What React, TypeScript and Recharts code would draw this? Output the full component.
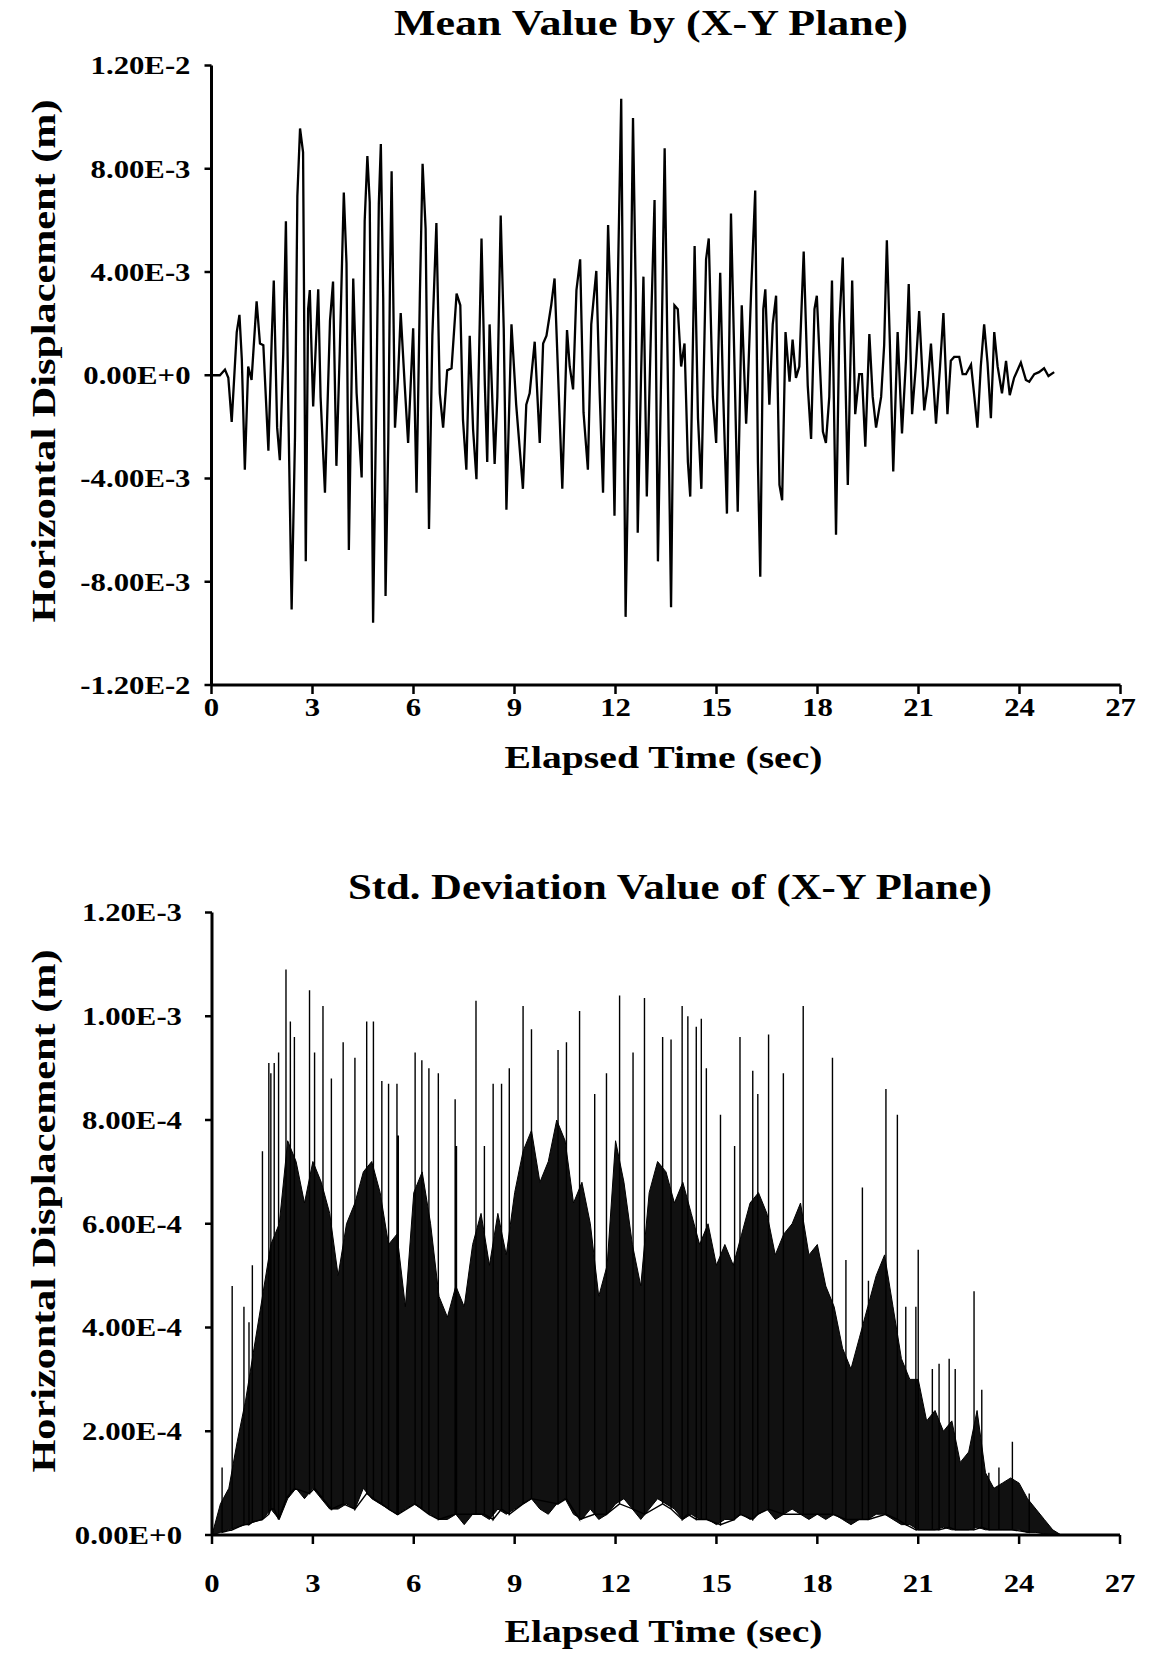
import React from 'react';
import { LineChart, ComposedChart, Line, Area, XAxis, YAxis } from 'recharts';

// ---------- shared axis data ----------
const timeTicks = [0, 3, 6, 9, 12, 15, 18, 21, 24, 27];

// Mean chart (values in 1e-3 m)
const meanTickValues = [-12, -8, -4, 0, 4, 8, 12];
const meanTickLabels = ['-1.20E-2', '-8.00E-3', '-4.00E-3', '0.00E+0', '4.00E-3', '8.00E-3', '1.20E-2'];

// Std chart (values in 1e-4 m)
const stdTickValues = [0, 2, 4, 6, 8, 10, 12];
const stdTickLabels = ['0.00E+0', '2.00E-4', '4.00E-4', '6.00E-4', '8.00E-4', '1.00E-3', '1.20E-3'];

// ---------- mean displacement trace: [time s, value 1e-3 m] ----------
const meanPartA: [number, number][] = [
  [0, 0], [0.25, 0], [0.4, 0.22], [0.5, -0.1], [0.6, -1.81], [0.75, 1.67], [0.83, 2.34], [0.9, 0.64],
  [0.99, -3.66], [1.09, 0.34], [1.19, -0.18], [1.34, 2.86], [1.44, 1.23], [1.54, 1.16], [1.69, -2.92],
  [1.79, 1.45], [1.85, 3.67], [1.95, -2.03], [2.03, -3.29], [2.13, 0.79], [2.21, 5.97], [2.28, -1.14],
  [2.38, -9.07], [2.48, -2.4], [2.55, 6.93], [2.63, 9.56], [2.72, 8.64], [2.8, -7.21], [2.87, 2.56],
  [2.92, 3.3], [3.02, -1.21], [3.17, 3.33], [3.24, -0.84], [3.37, -4.55], [3.52, 2.12], [3.61, 3.63],
  [3.71, -3.51], [3.81, 0.93], [3.93, 7.08], [4.01, 4.34], [4.08, -6.77], [4.21, 3.75], [4.31, -0.7],
  [4.46, -3.96], [4.55, 5.97], [4.63, 8.49], [4.7, 6.71], [4.8, -9.59], [4.9, -0.55], [4.97, 6.64],
  [5.03, 8.96], [5.1, 3.01], [5.17, -8.55], [5.25, -2.62], [5.3, 3.45], [5.35, 7.9], [5.45, -2.03],
  [5.54, -0.1], [5.62, 2.41], [5.74, -0.4], [5.84, -2.62], [5.99, 1.82], [6.09, -4.55], [6.19, 3.16],
  [6.27, 8.19], [6.36, 5.67], [6.46, -5.96], [6.56, 1.53], [6.68, 5.9], [6.78, -0.7], [6.88, -2.03],
  [7.0, 0.19], [7.13, 0.27], [7.28, 3.16], [7.39, 2.71], [7.47, -1.73], [7.57, -3.66], [7.67, 1.53],
  [7.77, -2.1], [7.87, -4.03], [8.02, 5.3], [8.12, -0.4], [8.19, -3.36], [8.26, 1.97], [8.41, -3.44],
  [8.49, -0.84], [8.59, 6.19], [8.68, 1.82], [8.76, -5.21], [8.91, 1.97],
];
const meanPartB: [number, number][] = [
  [9.05, -1.14], [9.25, -4.4], [9.35, -1.14], [9.45, -0.7], [9.6, 1.3], [9.75, -2.62], [9.85, 1.23],
  [9.95, 1.53], [10.09, 2.71], [10.19, 3.75], [10.34, -1.59], [10.42, -4.4], [10.56, 1.75], [10.64, 0.34],
  [10.74, -0.55], [10.84, 3.3], [10.95, 4.49], [11.05, -1.44], [11.18, -3.66], [11.28, 1.97], [11.43, 4.04],
  [11.53, -0.7], [11.63, -4.55], [11.78, 5.82], [11.87, 2.12], [11.97, -5.44], [12.07, 3.6], [12.17, 10.71],
  [12.24, -0.4], [12.3, -9.36], [12.42, -0.4], [12.52, 9.97], [12.6, 3.3], [12.66, -6.1], [12.76, 0.04],
  [12.83, 3.82], [12.93, -4.7], [13.06, 2.12], [13.16, 6.79], [13.26, -7.21], [13.36, 0.34], [13.46, 8.79],
  [13.54, 1.23], [13.65, -8.99], [13.75, 2.71], [13.85, 2.56], [13.95, 0.34], [14.05, 1.23], [14.15, -3.36],
  [14.22, -4.7], [14.35, 5.01], [14.45, -1.66], [14.55, -4.4], [14.69, 4.49], [14.77, 5.3], [14.89, -0.84],
  [14.99, -2.62], [15.11, 3.97], [15.19, -0.4], [15.31, -5.36], [15.43, 6.27], [15.53, 0.64], [15.63, -5.29],
  [15.75, 2.71], [15.88, -1.88], [15.93, -0.4], [16.03, 3.3], [16.15, 7.16], [16.23, -3.36], [16.3, -7.81],
  [16.39, 2.56], [16.45, 3.33], [16.57, -1.14], [16.67, 1.97], [16.77, 3.08], [16.87, -4.25], [16.95, -4.84],
  [17.05, 1.67], [17.17, -0.25], [17.26, 1.38], [17.36, -0.1], [17.46, 0.34], [17.59, 4.79], [17.71, -0.4],
  [17.81, -2.47], [17.91, 2.56], [17.98, 3.08],
];
const meanPartC: [number, number][] = [
  [18.16, -2.18], [18.25, -2.62], [18.35, -0.84], [18.43, 3.67], [18.55, -6.18], [18.65, 1.97], [18.75, 4.56],
  [18.9, -4.25], [19.03, 3.67], [19.12, -1.51], [19.24, 0.04], [19.32, 0.04], [19.42, -2.77], [19.54, 1.6],
  [19.64, -0.84], [19.74, -2.03], [19.89, -0.84], [19.98, 1.16], [20.06, 5.23], [20.15, 1.23], [20.25, -3.73],
  [20.38, 1.67], [20.51, -2.25], [20.63, 0.64], [20.71, 3.53], [20.81, -1.51], [20.92, 0.34], [21.02, 2.49],
  [21.17, -1.36], [21.27, -0.4], [21.37, 1.23], [21.52, -1.88], [21.64, 0.34], [21.74, 2.41], [21.86, -1.51],
  [21.96, 0.56], [22.06, 0.71], [22.21, 0.71], [22.31, 0.04], [22.41, 0.04], [22.56, 0.41], [22.66, -0.84],
  [22.75, -2.03], [22.85, 0.34], [22.95, 1.97], [23.05, 0.49], [23.15, -1.66], [23.25, 1.67], [23.35, 0.34],
  [23.48, -0.7], [23.6, 0.56], [23.71, -0.77], [23.84, -0.1], [24.04, 0.49], [24.19, -0.18], [24.29, -0.25],
  [24.44, 0.04], [24.58, 0.12], [24.73, 0.27], [24.86, -0.03], [25.03, 0.12],
];

// ---------- std deviation: dense band [time, low, high] in 1e-4 m ----------
const stdBand: [number, number, number][] = [
  [0, 0, 0], [0.25, 0.05, 0.6], [0.5, 0.1, 0.9], [0.75, 0.15, 1.8], [1.0, 0.2, 2.6], [1.25, 0.25, 3.6],
  [1.5, 0.3, 4.6], [1.75, 0.5, 5.6], [2.0, 0.3, 6.0], [2.25, 0.7, 7.6], [2.5, 0.9, 7.2], [2.75, 0.7, 6.4],
  [3.0, 0.9, 7.2], [3.25, 0.7, 6.8], [3.5, 0.5, 6.2], [3.75, 0.5, 5.0], [4.0, 0.6, 6.0], [4.25, 0.5, 6.4],
  [4.5, 0.9, 7.0], [4.75, 0.7, 7.2], [5.0, 0.6, 6.6], [5.25, 0.5, 5.6], [5.5, 0.4, 5.8], [5.75, 0.5, 4.4],
  [6.0, 0.6, 6.6], [6.25, 0.5, 7.0], [6.5, 0.4, 6.0], [6.75, 0.3, 4.6], [7.0, 0.3, 4.2], [7.25, 0.4, 4.8],
  [7.5, 0.2, 4.4], [7.75, 0.4, 5.6], [8.0, 0.4, 6.2], [8.25, 0.3, 5.2], [8.5, 0.5, 6.2], [8.75, 0.4, 5.4],
  [9.0, 0.5, 6.6], [9.25, 0.6, 7.4], [9.5, 0.7, 7.8], [9.75, 0.5, 6.8], [10.0, 0.4, 7.2], [10.25, 0.6, 8.0],
  [10.5, 0.7, 7.6], [10.75, 0.4, 6.4], [11.0, 0.3, 6.8], [11.25, 0.5, 6.0], [11.5, 0.3, 4.6], [11.75, 0.4, 5.2],
  [12.0, 0.6, 7.6], [12.25, 0.7, 6.8], [12.5, 0.5, 5.6], [12.75, 0.3, 4.8], [13.0, 0.5, 6.6], [13.25, 0.7, 7.2],
  [13.5, 0.6, 7.0], [13.75, 0.5, 6.4], [14.0, 0.3, 6.8], [14.25, 0.4, 6.2], [14.5, 0.3, 5.6], [14.75, 0.3, 6.0],
  [15.0, 0.2, 5.2], [15.25, 0.3, 5.6], [15.5, 0.3, 5.2], [15.75, 0.4, 5.8], [16.0, 0.3, 6.4], [16.25, 0.4, 6.6],
  [16.5, 0.5, 6.2], [16.75, 0.3, 5.4], [17.0, 0.4, 5.8], [17.25, 0.5, 6.0], [17.5, 0.4, 6.4], [17.75, 0.3, 5.4],
  [18.0, 0.4, 5.6], [18.25, 0.3, 4.8], [18.5, 0.4, 4.4], [18.75, 0.3, 3.6], [19.0, 0.2, 3.2], [19.25, 0.3, 3.8],
  [19.5, 0.3, 4.4], [19.75, 0.4, 5.0], [20.0, 0.4, 5.4], [20.25, 0.3, 4.4], [20.5, 0.2, 3.4], [20.75, 0.2, 3.0],
  [21.0, 0.1, 3.0], [21.25, 0.1, 2.2], [21.5, 0.1, 2.4], [21.75, 0.15, 2.0], [22.0, 0.1, 2.2], [22.25, 0.1, 1.4],
  [22.5, 0.1, 1.6], [22.75, 0.15, 2.4], [23.0, 0.1, 1.2], [23.25, 0.1, 0.9], [23.5, 0.1, 1.0], [23.75, 0.1, 1.1],
  [24.0, 0.1, 1.0], [24.25, 0.05, 0.7], [24.5, 0.05, 0.5], [24.75, 0.02, 0.3], [25.0, 0, 0.1], [25.25, 0, 0],
];

// ---------- std deviation spikes: [time, base, peak] in 1e-4 m ----------
const stdSpikes: [number, number, number][] = [
  [0.3, 0.05, 1.3], [0.6, 0.1, 4.8], [0.95, 0.2, 4.4], [1.1, 0.2, 4.1], [1.2, 0.25, 5.2], [1.5, 0.3, 7.4],
  [1.69, 0.4, 9.1], [1.75, 0.5, 8.9], [1.85, 0.5, 9.1], [1.98, 0.3, 9.3], [2.2, 0.7, 10.9], [2.33, 0.8, 9.9],
  [2.45, 0.9, 9.6], [2.9, 0.8, 10.5], [3.05, 0.9, 9.3], [3.3, 0.7, 10.2], [3.55, 0.5, 8.8], [3.9, 0.6, 9.5],
  [4.25, 0.5, 9.2], [4.6, 0.8, 9.9], [4.8, 0.7, 9.9], [5.05, 0.6, 8.75], [5.25, 0.5, 8.7], [5.5, 0.4, 8.7],
  [5.54, 0.4, 7.7], [6.04, 0.6, 9.3], [6.24, 0.5, 9.15], [6.45, 0.4, 9.0], [6.73, 0.3, 8.9], [7.23, 0.4, 8.4],
  [7.27, 0.4, 7.5], [7.85, 0.4, 10.3], [8.1, 0.4, 7.5], [8.36, 0.3, 8.7], [8.61, 0.5, 8.7], [8.84, 0.4, 9.0],
  [9.25, 0.6, 10.2], [9.5, 0.7, 9.75], [10.29, 0.6, 9.35], [10.54, 0.7, 9.5], [10.93, 0.3, 10.1],
  [11.38, 0.4, 8.5], [11.73, 0.4, 8.9], [12.12, 0.6, 10.4], [12.52, 0.5, 9.3], [12.86, 0.4, 10.35],
  [13.4, 0.6, 9.6], [13.65, 0.5, 9.55], [13.98, 0.3, 10.2], [14.15, 0.4, 10.0], [14.4, 0.3, 9.8],
  [14.55, 0.3, 9.95], [14.7, 0.3, 9.0], [15.12, 0.2, 8.1], [15.54, 0.3, 7.5], [15.7, 0.4, 9.6],
  [16.08, 0.3, 8.95], [16.23, 0.4, 8.5], [16.55, 0.5, 9.65], [16.99, 0.4, 8.9], [17.58, 0.4, 10.2],
  [18.45, 0.4, 9.2], [18.85, 0.3, 5.3], [19.34, 0.3, 6.7], [19.52, 0.3, 4.9], [20.04, 0.4, 8.6],
  [20.38, 0.3, 8.1], [20.63, 0.2, 4.4], [20.93, 0.1, 4.4], [21.0, 0.1, 5.5], [21.42, 0.1, 3.2],
  [21.62, 0.1, 3.3], [21.92, 0.15, 3.4], [22.1, 0.1, 3.2], [22.66, 0.1, 4.7], [22.89, 0.15, 2.8],
  [23.1, 0.1, 1.2], [23.4, 0.1, 1.3], [23.8, 0.1, 1.8], [24.3, 0.05, 0.8],
];

// ---------- derived tables for the library ----------
const meanData = [...meanPartA, ...meanPartB, ...meanPartC].map(([t, v]) => ({ t, v }));
const stdBandData = stdBand.map(([t, lo, hi]) => ({ t, range: [lo, hi] }));
const stdSpikeData = stdSpikes.flatMap(([t, base, peak]) => [
  { t, v: base },
  { t, v: peak },
  { t, v: base },
]);

const FONT = '"Liberation Serif", "Times New Roman", serif';
const STRETCH = 1.23;

const makeYTick = (values: number[], labels: string[]) => (props: any) => {
  const { x, y, payload } = props;
  const idx = values.indexOf(payload.value);
  return (
    <g transform={`translate(${x},${y}) scale(${STRETCH},1)`}>
      <text x={0} y={0} dy="0.35em" textAnchor="end" fontFamily={FONT} fontWeight="bold" fontSize={25} fill="#000">
        {idx >= 0 ? labels[idx] : ''}
      </text>
    </g>
  );
};

const XTick = (props: any) => {
  const { x, y, payload } = props;
  return (
    <g transform={`translate(${x},${y}) scale(${STRETCH},1)`}>
      <text x={0} y={0} dy="0.35em" textAnchor="middle" fontFamily={FONT} fontWeight="bold" fontSize={25} fill="#000">
        {payload.value}
      </text>
    </g>
  );
};

const axisLine = { stroke: '#000', strokeWidth: 3 };
const tickLine = { stroke: '#000', strokeWidth: 2.5 };

const textStyle: React.CSSProperties = { fontFamily: FONT, fontWeight: 'bold' };

export default function App() {
  return (
    <div style={{ position: 'absolute', left: 0, top: 0, width: 1158, height: 1655, background: '#fff', overflow: 'hidden' }}>
      {/* Top chart */}
      <div style={{ position: 'absolute', left: 0, top: 0 }}>
        <LineChart width={1158} height={800} data={meanData} margin={{ top: 65.5, right: 37.5, left: 0, bottom: 55 }}>
          <XAxis
            dataKey="t"
            type="number"
            domain={[0, 27]}
            ticks={timeTicks}
            allowDataOverflow
            height={60}
            axisLine={axisLine}
            tickLine={tickLine}
            tickSize={9}
            tickMargin={13}
            tick={<XTick />}
            interval={0}
          />
          <YAxis
            type="number"
            domain={[-12, 12]}
            ticks={meanTickValues}
            allowDataOverflow
            width={211.5}
            axisLine={axisLine}
            tickLine={tickLine}
            tickSize={7}
            tickMargin={14}
            tick={makeYTick(meanTickValues, meanTickLabels)}
            interval={0}
          />
          <Line type="linear" dataKey="v" stroke="#000" strokeWidth={2.3} dot={false} isAnimationActive={false} />
        </LineChart>
      </div>

      {/* Bottom chart */}
      <div style={{ position: 'absolute', left: 0, top: 800 }}>
        <ComposedChart width={1158} height={855} data={stdBandData} margin={{ top: 112.5, right: 38, left: 0, bottom: 60 }}>
          <XAxis
            dataKey="t"
            type="number"
            domain={[0, 27]}
            ticks={timeTicks}
            allowDataOverflow
            height={60}
            axisLine={axisLine}
            tickLine={tickLine}
            tickSize={9}
            tickMargin={39}
            tick={<XTick />}
            interval={0}
          />
          <YAxis
            type="number"
            domain={[0, 12]}
            ticks={stdTickValues}
            allowDataOverflow
            width={212}
            axisLine={axisLine}
            tickLine={tickLine}
            tickSize={7}
            tickMargin={23}
            tick={makeYTick(stdTickValues, stdTickLabels)}
            interval={0}
          />
          <Area type="linear" dataKey="range" stroke="#000" strokeWidth={1} fill="#111" fillOpacity={1} isAnimationActive={false} />
          <Line data={stdSpikeData} type="linear" dataKey="v" stroke="#000" strokeWidth={1.4} dot={false} isAnimationActive={false} />
        </ComposedChart>
      </div>

      {/* Titles and axis titles */}
      <svg width={1158} height={1655} style={{ position: 'absolute', left: 0, top: 0, pointerEvents: 'none' }}>
        <text x={651} y={35} textAnchor="middle" fontSize={36} textLength={514} lengthAdjust="spacingAndGlyphs" style={textStyle}>
          Mean Value by (X-Y Plane)
        </text>
        <text x={663.5} y={768} textAnchor="middle" fontSize={32} textLength={318} lengthAdjust="spacingAndGlyphs" style={textStyle}>
          Elapsed Time (sec)
        </text>
        <text transform="translate(55,361) rotate(-90)" textAnchor="middle" fontSize={33} textLength={523} lengthAdjust="spacingAndGlyphs" style={textStyle}>
          Horizontal Displacement (m)
        </text>

        <text x={670} y={899} textAnchor="middle" fontSize={36} textLength={644} lengthAdjust="spacingAndGlyphs" style={textStyle}>
          Std. Deviation Value of (X-Y Plane)
        </text>
        <text x={663.5} y={1642} textAnchor="middle" fontSize={32} textLength={318} lengthAdjust="spacingAndGlyphs" style={textStyle}>
          Elapsed Time (sec)
        </text>
        <text transform="translate(55,1211) rotate(-90)" textAnchor="middle" fontSize={33} textLength={523} lengthAdjust="spacingAndGlyphs" style={textStyle}>
          Horizontal Displacement (m)
        </text>
      </svg>
    </div>
  );
}
